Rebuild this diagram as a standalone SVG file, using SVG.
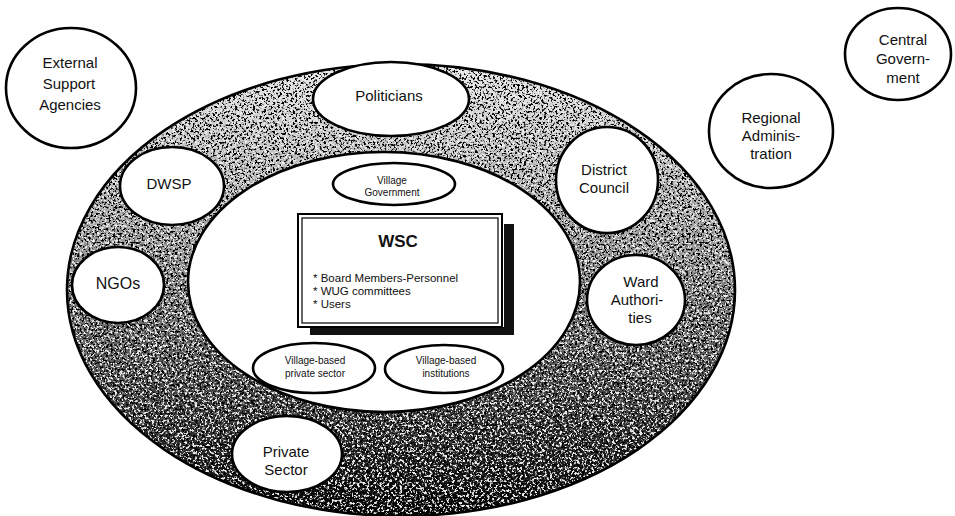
<svg xmlns="http://www.w3.org/2000/svg" width="955" height="516" viewBox="0 0 955 516">
<style>
  .node { fill: #fff; stroke: #000; stroke-width: 2.6; }
  .t { font-family: "Liberation Sans", Arial, sans-serif; font-size: 15px; fill: #111; text-anchor: middle; }
  .s { font-family: "Liberation Sans", Arial, sans-serif; font-size: 10px; fill: #111; text-anchor: middle; }
  .b { font-family: "Liberation Sans", Arial, sans-serif; font-size: 11.5px; fill: #111; }
  .edge { fill: none; stroke: #000; stroke-width: 2.6; }
</style>
<defs>
  <mask id="ringmask" maskUnits="userSpaceOnUse" x="0" y="0" width="955" height="516">
    <ellipse cx="401" cy="290" rx="334" ry="226" fill="#fff"/>
    <ellipse cx="384" cy="282" rx="196" ry="130" fill="#000"/>
  </mask>
  <linearGradient id="grad" x1="0" y1="60" x2="0" y2="516" gradientUnits="userSpaceOnUse">
    <stop offset="0" stop-color="#fff" stop-opacity="0"/>
    <stop offset="0.4" stop-color="#fff" stop-opacity="0.35"/>
    <stop offset="1" stop-color="#fff" stop-opacity="1"/>
  </linearGradient>
  <mask id="gradmask" maskUnits="userSpaceOnUse" x="0" y="0" width="955" height="516">
    <rect x="0" y="0" width="955" height="516" fill="url(#grad)"/>
  </mask>
  <filter id="noiseLight" filterUnits="userSpaceOnUse" x="0" y="0" width="955" height="516">
    <feTurbulence type="fractalNoise" baseFrequency="0.45" numOctaves="3" seed="7" result="n"/>
    <feColorMatrix in="n" type="matrix" values="0 0 0 0 0  0 0 0 0 0  0 0 0 0 0  8 0 0 0 -4.2"/>
  </filter>
  <filter id="noiseDense" filterUnits="userSpaceOnUse" x="0" y="0" width="955" height="516">
    <feTurbulence type="fractalNoise" baseFrequency="0.4" numOctaves="3" seed="21" result="n"/>
    <feColorMatrix in="n" type="matrix" values="0 0 0 0 0  0 0 0 0 0  0 0 0 0 0  8 0 0 0 -3.1"/>
  </filter>
</defs>
<rect width="955" height="516" fill="#fff"/>

<g id="ring">
  <g mask="url(#ringmask)">
    <rect x="0" y="0" width="955" height="516" fill="#ececec"/>
    <rect x="0" y="0" width="955" height="516" filter="url(#noiseLight)"/>
    <g mask="url(#gradmask)">
      <rect x="0" y="0" width="955" height="516" filter="url(#noiseDense)"/>
    </g>
  </g>
  <ellipse class="edge" cx="401" cy="290" rx="334" ry="226"/>
  <ellipse class="edge" cx="384" cy="282" rx="196" ry="130"/>
</g>

<g id="external-support-agencies">
  <ellipse class="node" cx="71" cy="88" rx="65" ry="60"/>
  <text class="t" x="70" y="68">External</text>
  <text class="t" x="69" y="89">Support</text>
  <text class="t" x="70" y="110">Agencies</text>
</g>

<g id="central-government">
  <ellipse class="node" cx="898" cy="54" rx="53" ry="46"/>
  <text class="t" x="903" y="45">Central</text>
  <text class="t" x="903" y="64">Govern-</text>
  <text class="t" x="903" y="83">ment</text>
</g>

<g id="regional-administration">
  <ellipse class="node" cx="771" cy="131" rx="62" ry="57"/>
  <text class="t" x="771" y="123">Regional</text>
  <text class="t" x="771" y="141">Adminis-</text>
  <text class="t" x="771" y="159">tration</text>
</g>

<g id="politicians">
  <ellipse class="node" cx="391" cy="99" rx="78" ry="37"/>
  <text class="t" x="389" y="101">Politicians</text>
</g>

<g id="dwsp">
  <ellipse class="node" cx="172" cy="186" rx="52" ry="39"/>
  <text class="t" x="169" y="189">DWSP</text>
</g>

<g id="ngos">
  <ellipse class="node" cx="118" cy="285" rx="46" ry="38"/>
  <text class="t" x="118" y="289" style="font-size:16px">NGOs</text>
</g>

<g id="district-council">
  <ellipse class="node" cx="607" cy="180" rx="51" ry="53"/>
  <text class="t" x="604" y="175">District</text>
  <text class="t" x="604" y="193">Council</text>
</g>

<g id="ward-authorities">
  <ellipse class="node" cx="636" cy="300" rx="49" ry="45"/>
  <text class="t" x="641" y="287">Ward</text>
  <text class="t" x="637" y="305">Authori-</text>
  <text class="t" x="640" y="323">ties</text>
</g>

<g id="private-sector">
  <ellipse class="node" cx="287" cy="454" rx="55" ry="38"/>
  <text class="t" x="286" y="457">Private</text>
  <text class="t" x="286" y="475">Sector</text>
</g>

<g id="village-government">
  <ellipse class="node" cx="394" cy="184" rx="61" ry="21"/>
  <text class="s" x="392" y="184">Village</text>
  <text class="s" x="392" y="196">Government</text>
</g>

<g id="wsc">
  <rect x="504" y="224" width="10" height="111" fill="#111"/>
  <rect x="310" y="327" width="204" height="8" fill="#111"/>
  <rect x="298" y="214" width="204" height="113" fill="#fff" stroke="#000" stroke-width="2"/>
  <rect x="302" y="218" width="196" height="105" fill="none" stroke="#000" stroke-width="1.2"/>
  <text class="t" x="398" y="247" style="font-weight:bold;font-size:17px">WSC</text>
  <text class="b" x="313" y="282">* Board Members-Personnel</text>
  <text class="b" x="313" y="295">* WUG committees</text>
  <text class="b" x="313" y="308">* Users</text>
</g>

<g id="village-based-private-sector">
  <ellipse class="node" cx="314" cy="368" rx="61" ry="25"/>
  <text class="s" x="315" y="364">Village-based</text>
  <text class="s" x="315" y="377">private sector</text>
</g>

<g id="village-based-institutions">
  <ellipse class="node" cx="444" cy="369" rx="59" ry="24"/>
  <text class="s" x="446" y="364">Village-based</text>
  <text class="s" x="446" y="377">institutions</text>
</g>
</svg>
